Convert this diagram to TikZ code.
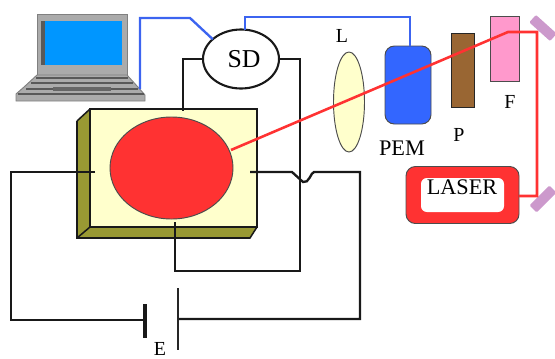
\documentclass[tikz,border=0pt]{standalone}
\usepackage{fontspec}
\setmainfont{Liberation Serif}
\usetikzlibrary{shapes.geometric}
\definecolor{wireblue}{RGB}{60,100,240}
\definecolor{beamred}{RGB}{255,50,50}
\definecolor{sampleface}{RGB}{255,255,204}
\definecolor{sampleside}{RGB}{153,153,51}
\definecolor{screenblue}{RGB}{0,150,255}
\definecolor{pemblue}{RGB}{51,102,255}
\definecolor{polbrown}{RGB}{153,102,51}
\definecolor{filterpink}{RGB}{255,153,204}
\definecolor{mirrormauve}{RGB}{204,153,204}
\tikzset{
    wire/.style={draw=black!90, line width=2pt, line join=miter},
    signal/.style={draw=wireblue, line width=2pt},
    beam/.style={draw=beamred, line width=2.2pt},
    part/.style={draw=black!70, line width=0.8pt, inner sep=0pt, outer sep=0pt},
    caption/.style={font=\fontsize{17}{17}\selectfont, inner sep=0pt},
    widecaption/.style={font=\fontsize{19}{19}\selectfont, inner sep=0pt},
    laptopgrey/.style={fill=black!33, draw=black!50, line width=0.8pt},
}
\begin{document}
\begin{tikzpicture}[x=0.03cm, y=-0.03cm]
    \useasboundingbox (0,0) rectangle (555,358);

    % laptop
    \fill[laptopgrey] (37,14) rectangle (127,75);
    \fill[black!65] (41,21) rectangle (46,65);
    \fill[screenblue] (45,21) rectangle (122,65);
    \fill[laptopgrey] (37,75) -- (127,75) -- (137,86) -- (145,95) -- (145,101) -- (16,101) -- (16,94) -- (24,87) -- cycle;
    \draw[black!65, line width=1pt] (36,78) -- (128,78);
    \draw[black!65, line width=1pt] (31,83) -- (133,83);
    \draw[black!65, line width=1pt] (26,89) -- (138,89);
    \draw[black!65, line width=1pt] (18,94) -- (144,94);
    \fill[black!60] (53,87) rectangle (111,91);

    % sample block
    \fill[sampleside] (77,121) -- (90,109) -- (90,227) -- (257,227) -- (250,238) -- (77,238) -- cycle;
    \node[draw=black!90, line width=1.8pt, fill=sampleface, inner sep=0pt, outer sep=0pt, minimum width=5.01cm, minimum height=3.54cm] (sample) at (173.5,168) {};
    \draw[black!90, line width=1.3pt] (77,121) -- (90,109);
    \draw[black!90, line width=1.3pt] (77,121) -- (77,238) -- (250,238) -- (257,227);
    \draw[black!90, line width=1.3pt] (77,238) -- (90,227);
    \node[part, ellipse, fill=beamred, minimum width=3.69cm, minimum height=3.06cm] (film) at (171.5,168) {};

    % optics
    \node[draw=black!90, line width=1.8pt, ellipse, fill=white, inner sep=0pt, outer sep=0pt, minimum width=2.28cm, minimum height=1.77cm] (sd) at (241,59) {};
    \node[font=\fontsize{22}{22}\selectfont, inner sep=0pt] (sdlabel) at (244,59) {SD};
    \node[part, ellipse, fill=sampleface, minimum width=0.93cm, minimum height=3cm] (lens) at (349,102) {};
    \node[part, rounded corners=8pt, fill=pemblue, minimum width=1.38cm, minimum height=2.34cm] (pem) at (408,85) {};
    \node[part, draw=black!85, fill=polbrown, minimum width=0.69cm, minimum height=2.22cm] (pol) at (462.5,70) {};
    \node[part, fill=filterpink, minimum width=0.87cm, minimum height=1.95cm] (filter) at (504.5,48.5) {};
    \node[part, rounded corners=8pt, fill=beamred, minimum width=3.39cm, minimum height=1.71cm] (laser) at (462.5,195) {};
    \node[rounded corners=5pt, fill=white, inner sep=0pt, minimum width=2.49cm, minimum height=1.02cm] (laserwin) at (462.5,195) {};
    \node[fill=mirrormauve, rounded corners=1pt, rotate=-42, inner sep=0pt, minimum width=0.84cm, minimum height=0.3cm] (mirrortop) at (543,28) {};
    \node[fill=mirrormauve, rounded corners=1pt, rotate=45, inner sep=0pt, minimum width=0.84cm, minimum height=0.3cm] (mirrorlow) at (543,199) {};

    % labels
    \node[caption] (llabel) at (342,36) {L};
    \node[widecaption] (pemlabel) at (402,148) {PEM};
    \node[caption] (plabel) at (459,135) {P};
    \node[caption] (flabel) at (510,102) {F};
    \node[widecaption] (laserlabel) at (462,187) {LASER};
    \node[caption] (elabel) at (160,349) {E};

    % helper points
    \coordinate (pcout) at (140,89);
    \coordinate (pcup) at (140,18);
    \coordinate (pcbend) at (190,18);
    \coordinate (sdtop) at (245,30);
    \coordinate (sdup) at (245,17);
    \coordinate (pemup) at (410,17);
    \coordinate (pemtop) at (410,46);
    \coordinate (sampletop) at (183,111);
    \coordinate (samplelow) at (175,222);
    \coordinate (sampleleft) at (95,172);
    \coordinate (sampleright) at (250,172);
    \coordinate (batleft) at (145,320);
    \coordinate (batright) at (178,319);
    \coordinate (beamin) at (231,150);
    \coordinate (beamf) at (508,32);
    \coordinate (beamcorner) at (537,32);
    \coordinate (beamlow) at (537,196);
    \coordinate (laserout) at (519,196);

    % connectors
    \draw[signal] (pcout) -- (pcup) -- (pcbend) -- (sd.145);
    \draw[signal] (sdtop) -- (sdup) -- (pemup) -- (pemtop);
    \draw[wire] (sd.west) -- (183,59) -- (sampletop);
    \draw[wire] (sd.east) -- (300,59) -- (300,271) -- (175,271) -- (samplelow);
    \draw[wire] (sampleleft) -- (11,172) -- (11,320) -- (batleft);
    \draw[wire] (sampleright) -- (292,172) -- (303,182) .. controls (309,184) and (311,172) .. (314,172) -- (360,172) -- (360,319) -- (batright);
    \draw[wire, line width=2.6pt] (145,304) -- (145,338);
    \draw[black!85, line width=1.3pt] (178,288) -- (178,350);
    \draw[beam] (beamin) -- (beamf) -- (beamcorner) -- (beamlow) -- (laserout);
\end{tikzpicture}
\end{document}
